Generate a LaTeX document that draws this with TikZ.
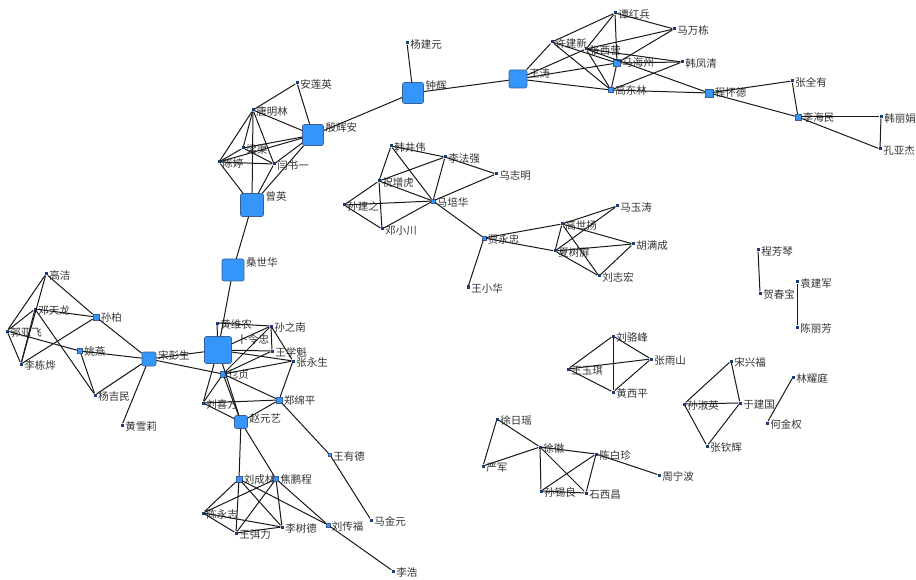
\documentclass[tikz,border=0pt]{standalone}
\usepackage{fontspec}
\newfontfamily\cjk{Noto Sans CJK SC}
\definecolor{nodeblue}{RGB}{52,150,250}
\definecolor{nodeedge}{RGB}{60,95,150}
\definecolor{dotblue}{RGB}{30,60,120}
\begin{document}
\begin{tikzpicture}
	[x=1pt,y=-1pt,
	sq/.style={rectangle,rounded corners=2pt,draw=nodeedge,line width=0.6pt,fill=nodeblue,minimum size=#1,inner sep=0pt},
	box/.style={rectangle,draw=nodeedge,line width=0.4pt,fill=nodeblue,minimum size=#1,inner sep=0pt},
	dot/.style={rectangle,fill=dotblue,minimum size=3pt,inner sep=0pt},
	lbl/.style={font=\cjk\fontsize{10.5}{12}\selectfont,text=black!80,inner sep=0pt,anchor=west,xshift=1.5pt,yshift=-3.5pt},
	edge/.style={-,line width=1pt,black!90}]
	\useasboundingbox (0,0) rectangle (916,580);
	% upper left group
	\node[dot,name=anly,label={[lbl]north east:安莲英}] at (297,83) {};
	\node[dot,name=tml,label={[lbl]north east:唐明林}] at (253,110) {};
	\node[sq=21pt,name=yha,label={[lbl]north east:殷辉安}] at (313,135) {};
	\node[dot,name=lq,label={[lbl]north east:梁渠}] at (243,148) {};
	\node[dot,name=ct,label={[lbl]north east:陈婷}] at (219,162) {};
	\node[dot,name=ysy,label={[lbl]north east:闫书一}] at (274,164) {};
	\node[sq=23pt,name=zy,label={[lbl]north east:曾英}] at (252,205) {};
	\node[sq=22pt,name=ssh,label={[lbl]north east:桑世华}] at (233,270) {};
	\node[sq=21pt,name=zh,label={[lbl]north east:钟辉}] at (413,93) {};
	\node[dot,name=yjy,label={[lbl]north east:杨建元}] at (407,43) {};
	% upper right group
	\node[sq=18pt,name=wt,label={[lbl]north east:王涛}] at (518,79) {};
	\node[dot,name=xjx,label={[lbl]north east:许建新}] at (552,42) {};
	\node[dot,name=thb,label={[lbl]north east:谭红兵}] at (615,13) {};
	\node[dot,name=mwd,label={[lbl]north east:马万栋}] at (674,29) {};
	\node[dot,name=zxy,label={[lbl]north east:张西营}] at (586,49) {};
	\node[box=7pt,name=mhz,label={[lbl]north east:马海州}] at (617,63) {};
	\node[dot,name=hfq,label={[lbl]north east:韩凤清}] at (682,62) {};
	\node[box=5pt,name=gdl,label={[lbl]north east:高东林}] at (611,90) {};
	\node[box=8pt,name=chd,label={[lbl]north east:程怀德}] at (709,93) {};
	\node[dot,name=zqy,label={[lbl]north east:张全有}] at (792,81) {};
	\node[box=6pt,name=lhm,label={[lbl]north east:李海民}] at (798,117) {};
	\node[dot,name=hlj,label={[lbl]north east:韩丽娟}] at (881,117) {};
	\node[dot,name=kyj,label={[lbl]north east:孔亚杰}] at (880,149) {};
	% middle group
	\node[dot,name=hjw,label={[lbl]north east:韩井伟}] at (391,146) {};
	\node[dot,name=lfq,label={[lbl]north east:李法强}] at (445,157) {};
	\node[dot,name=wzm,label={[lbl]north east:乌志明}] at (496,174) {};
	\node[dot,name=zzh,label={[lbl]north east:祝增虎}] at (379,181) {};
	\node[dot,name=sjz,label={[lbl]north east:孙建之}] at (344,205) {};
	\node[box=4pt,name=mph,label={[lbl]north east:马培华}] at (433,201) {};
	\node[dot,name=dxc,label={[lbl]north east:邓小川}] at (382,229) {};
	\node[box=4pt,name=jyz,label={[lbl]north east:贾永忠}] at (484,238) {};
	\node[dot,name=wxh,label={[lbl]north east:王小华}] at (468,287) {};
	\node[dot,name=myt,label={[lbl]north east:马玉涛}] at (617,206) {};
	\node[dot,name=gsy,label={[lbl]north east:高世扬}] at (562,224) {};
	\node[dot,name=hmc,label={[lbl]north east:胡满成}] at (633,244) {};
	\node[dot,name=xsp,label={[lbl]north east:夏树屏}] at (555,251) {};
	\node[dot,name=lzh,label={[lbl]north east:刘志宏}] at (599,276) {};
	% lower left group
	\node[dot,name=gj,label={[lbl]north east:高洁}] at (46,274) {};
	\node[dot,name=dtl,label={[lbl]north east:邓天龙}] at (35,309) {};
	\node[box=6pt,name=sb,label={[lbl]north east:孙柏}] at (96,317) {};
	\node[dot,name=gyf,label={[lbl]north east:郭亚飞}] at (7,331) {};
	\node[box=5pt,name=yy,label={[lbl]north east:姚燕}] at (80,351) {};
	\node[dot,name=ldy,label={[lbl]north east:李栋烨}] at (21,364) {};
	\node[sq=14pt,name=sps,label={[lbl]north east:宋彭生}] at (149,359) {};
	\node[dot,name=yjm,label={[lbl]north east:杨吉民}] at (95,395) {};
	\node[dot,name=hxl,label={[lbl]north east:黄雪莉}] at (122,425) {};
	\node[dot,name=hwn,label={[lbl]north east:黄维农}] at (217,323) {};
	\node[dot,name=szn,label={[lbl]north east:孙之南}] at (271,326) {};
	\node[sq=27pt,name=blz,label={[lbl,xshift=4pt]north east:卜令忠}] at (218,350) {};
	\node[dot,name=wxk,label={[lbl]north east:王学魁}] at (272,351) {};
	\node[dot,name=zys,label={[lbl]north east:张永生}] at (293,361) {};
	\node[box=6pt,name=nz,label={[lbl]north east:乜贞}] at (223,374) {};
	\node[dot,name=lxf,label={[lbl]north east:刘喜方}] at (203,403) {};
	\node[box=6pt,name=zmp,label={[lbl]north east:郑绵平}] at (279,400) {};
	\node[sq=13pt,name=zyy,label={[lbl]north east:赵元艺}] at (241,422) {};
	\node[box=3pt,name=wyd,label={[lbl]north east:王有德}] at (330,455) {};
	\node[box=6pt,name=lcl,label={[lbl]north east:刘成林}] at (239,479) {};
	\node[box=5pt,name=jpc,label={[lbl]north east:焦鹏程}] at (276,479) {};
	\node[dot,name=cyz,label={[lbl]north east:陈永志}] at (203,513) {};
	\node[dot,name=wml,label={[lbl]north east:王弭力}] at (236,533) {};
	\node[dot,name=lsd,label={[lbl]north east:李树德}] at (282,527) {};
	\node[box=4pt,name=lcf,label={[lbl]north east:刘传福}] at (328,525) {};
	\node[dot,name=mjy,label={[lbl]north east:马金元}] at (371,520) {};
	\node[dot,name=lh,label={[lbl]north east:李浩}] at (393,571) {};
	% lower right groups
	\node[dot,name=llf,label={[lbl]north east:刘骆峰}] at (613,336) {};
	\node[dot,name=zysh,label={[lbl]north east:张雨山}] at (651,359) {};
	\node[dot,name=wyq,label={[lbl]north east:王玉琪}] at (568,369) {};
	\node[dot,name=hxp,label={[lbl]north east:黄西平}] at (613,392) {};
	\node[dot,name=cfq,label={[lbl]north east:程芳琴}] at (758,250) {};
	\node[dot,name=hcb,label={[lbl]north east:贺春宝}] at (760,293) {};
	\node[dot,name=yjj,label={[lbl]north east:袁建军}] at (797,282) {};
	\node[dot,name=clf,label={[lbl]north east:陈丽芳}] at (797,327) {};
	\node[dot,name=sxf,label={[lbl]north east:宋兴福}] at (731,361) {};
	\node[dot,name=lyt,label={[lbl]north east:林耀庭}] at (793,377) {};
	\node[dot,name=ssy,label={[lbl]north east:孙淑英}] at (684,404) {};
	\node[dot,name=yjg,label={[lbl]north east:于建国}] at (740,403) {};
	\node[dot,name=hjq,label={[lbl]north east:何金权}] at (767,423) {};
	\node[dot,name=zqh,label={[lbl]north east:张钦辉}] at (707,446) {};
	\node[dot,name=xry,label={[lbl]north east:徐日瑶}] at (497,419) {};
	\node[dot,name=xh,label={[lbl]north east:徐徽}] at (540,447) {};
	\node[dot,name=cbz,label={[lbl]north east:陈白珍}] at (596,454) {};
	\node[dot,name=yj,label={[lbl]north east:严军}] at (483,466) {};
	\node[dot,name=znb,label={[lbl]north east:周宁波}] at (659,475) {};
	\node[dot,name=sxl,label={[lbl]north east:孙锡良}] at (541,491) {};
	\node[dot,name=sxc,label={[lbl]north east:石西昌}] at (586,493) {};
	% links
	\draw[edge](anly)--(tml);
	\draw[edge](anly)--(yha);
	\draw[edge](tml)--(yha);
	\draw[edge](tml)--(ct);
	\draw[edge](tml)--(lq);
	\draw[edge](tml)--(zy);
	\draw[edge](tml)--(ysy);
	\draw[edge](lq)--(yha);
	\draw[edge](ct)--(yha);
	\draw[edge](lq)--(ysy);
	\draw[edge](ct)--(lq);
	\draw[edge](ct)--(ysy);
	\draw[edge](ct)--(zy);
	\draw[edge](ysy)--(yha);
	\draw[edge](ysy)--(zy);
	\draw[edge](yha)--(zy);
	\draw[edge](yha)--(zh);
	\draw[edge](zy)--(ssh);
	\draw[edge](ssh)--(blz);
	\draw[edge](yjy)--(zh);
	\draw[edge](zh)--(wt);
	\draw[edge](wt)--(xjx);
	\draw[edge](wt)--(zxy);
	\draw[edge](wt)--(mhz);
	\draw[edge](wt)--(gdl);
	\draw[edge](xjx)--(thb);
	\draw[edge](xjx)--(gdl);
	\draw[edge](xjx)--(mhz);
	\draw[edge](zxy)--(thb);
	\draw[edge](zxy)--(gdl);
	\draw[edge](zxy)--(chd);
	\draw[edge](zxy)--(hfq);
	\draw[edge](thb)--(mwd);
	\draw[edge](thb)--(mhz);
	\draw[edge](mwd)--(zxy);
	\draw[edge](mwd)--(mhz);
	\draw[edge](mhz)--(hfq);
	\draw[edge](mhz)--(gdl);
	\draw[edge](gdl)--(hfq);
	\draw[edge](gdl)--(chd);
	\draw[edge](chd)--(zqy);
	\draw[edge](chd)--(lhm);
	\draw[edge](zqy)--(lhm);
	\draw[edge](lhm)--(hlj);
	\draw[edge](lhm)--(kyj);
	\draw[edge](hlj)--(kyj);
	\draw[edge](hjw)--(lfq);
	\draw[edge](hjw)--(zzh);
	\draw[edge](hjw)--(mph);
	\draw[edge](lfq)--(zzh);
	\draw[edge](lfq)--(wzm);
	\draw[edge](lfq)--(mph);
	\draw[edge](wzm)--(mph);
	\draw[edge](zzh)--(sjz);
	\draw[edge](zzh)--(dxc);
	\draw[edge](zzh)--(mph);
	\draw[edge](sjz)--(mph);
	\draw[edge](sjz)--(dxc);
	\draw[edge](dxc)--(mph);
	\draw[edge](mph)--(jyz);
	\draw[edge](jyz)--(wxh);
	\draw[edge](jyz)--(gsy);
	\draw[edge](jyz)--(xsp);
	\draw[edge](gsy)--(myt);
	\draw[edge](xsp)--(myt);
	\draw[edge](gsy)--(xsp);
	\draw[edge](gsy)--(hmc);
	\draw[edge](gsy)--(lzh);
	\draw[edge](xsp)--(hmc);
	\draw[edge](xsp)--(lzh);
	\draw[edge](hmc)--(lzh);
	\draw[edge](gj)--(gyf);
	\draw[edge](gj)--(ldy);
	\draw[edge](gj)--(sb);
	\draw[edge](dtl)--(gyf);
	\draw[edge](dtl)--(ldy);
	\draw[edge](dtl)--(sb);
	\draw[edge](dtl)--(yjm);
	\draw[edge](gyf)--(ldy);
	\draw[edge](gyf)--(yy);
	\draw[edge](ldy)--(sb);
	\draw[edge](yy)--(yjm);
	\draw[edge](sb)--(sps);
	\draw[edge](yy)--(sps);
	\draw[edge](yjm)--(sps);
	\draw[edge](hxl)--(sps);
	\draw[edge](sps)--(blz);
	\draw[edge](sps)--(nz);
	\draw[edge](hwn)--(szn);
	\draw[edge](hwn)--(blz);
	\draw[edge](blz)--(szn);
	\draw[edge](blz)--(wxk);
	\draw[edge](blz)--(zys);
	\draw[edge](szn)--(wxk);
	\draw[edge](szn)--(zys);
	\draw[edge](szn)--(nz);
	\draw[edge](wxk)--(nz);
	\draw[edge](nz)--(zys);
	\draw[edge](nz)--(zmp);
	\draw[edge](zys)--(zmp);
	\draw[edge](lxf)--(zmp);
	\draw[edge](lxf)--(blz);
	\draw[edge](lxf)--(nz);
	\draw[edge](lxf)--(zyy);
	\draw[edge](zmp)--(zyy);
	\draw[edge](zmp)--(wyd);
	\draw[edge](wyd)--(mjy);
	\draw[edge](blz)--(zyy);
	\draw[edge](nz)--(zyy);
	\draw[edge](zyy)--(lcl);
	\draw[edge](zyy)--(jpc);
	\draw[edge](lcl)--(cyz);
	\draw[edge](lcl)--(wml);
	\draw[edge](lcl)--(lsd);
	\draw[edge](lcl)--(lcf);
	\draw[edge](jpc)--(cyz);
	\draw[edge](jpc)--(wml);
	\draw[edge](jpc)--(lsd);
	\draw[edge](jpc)--(lcf);
	\draw[edge](cyz)--(wml);
	\draw[edge](cyz)--(lsd);
	\draw[edge](wml)--(lsd);
	\draw[edge](lcf)--(lh);
	\draw[edge](wyq)--(llf);
	\draw[edge](wyq)--(zysh);
	\draw[edge](wyq)--(hxp);
	\draw[edge](llf)--(hxp);
	\draw[edge](llf)--(zysh);
	\draw[edge](zysh)--(hxp);
	\draw[edge](cfq)--(hcb);
	\draw[edge](yjj)--(clf);
	\draw[edge](sxf)--(ssy);
	\draw[edge](sxf)--(yjg);
	\draw[edge](ssy)--(yjg);
	\draw[edge](ssy)--(zqh);
	\draw[edge](yjg)--(zqh);
	\draw[edge](lyt)--(hjq);
	\draw[edge](xry)--(yj);
	\draw[edge](xry)--(xh);
	\draw[edge](yj)--(xh);
	\draw[edge](xh)--(sxl);
	\draw[edge](xh)--(cbz);
	\draw[edge](xh)--(sxc);
	\draw[edge](cbz)--(sxl);
	\draw[edge](cbz)--(sxc);
	\draw[edge](cbz)--(znb);
	\draw[edge](sxl)--(sxc);
\end{tikzpicture}
\end{document}
